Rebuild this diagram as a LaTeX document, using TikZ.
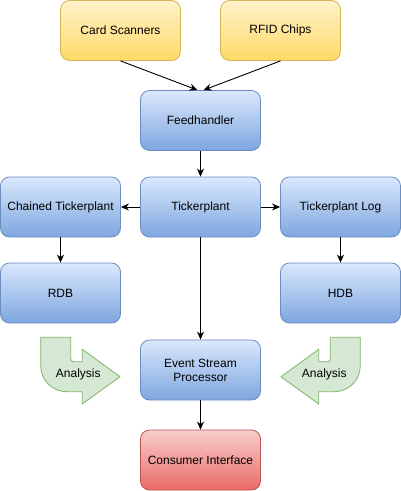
\documentclass[tikz,border=0pt]{standalone}
\usepackage{fontspec}
\setmainfont{Liberation Sans}
\usetikzlibrary{arrows.meta}
\definecolor{yTop}{HTML}{FFF2CC}
\definecolor{yBot}{HTML}{FFD966}
\definecolor{yStroke}{HTML}{D6B656}
\definecolor{bTop}{HTML}{DAE8FC}
\definecolor{bBot}{HTML}{7EA6E0}
\definecolor{bStroke}{HTML}{6C8EBF}
\definecolor{rTop}{HTML}{F8CECC}
\definecolor{rBot}{HTML}{EA6B66}
\definecolor{rStroke}{HTML}{B85450}
\definecolor{gFill}{HTML}{D5E8D4}
\definecolor{gStroke}{HTML}{82B366}
\tikzset{
  box/.style={rounded corners=9pt, minimum width=120pt, minimum height=60pt,
    line width=0.8pt, font=\fontsize{12}{14}\selectfont, align=center, inner sep=0pt},
  yellowbox/.style={box, draw=yStroke, top color=yTop, bottom color=yBot},
  bluebox/.style={box, draw=bStroke, top color=bTop, bottom color=bBot},
  redbox/.style={box, draw=rStroke, top color=rTop, bottom color=rBot},
  arr/.style={line width=0.9pt, -{Stealth[length=8pt,width=7pt,inset=2.5pt]}},
  bigarrow/.style={fill=gFill, draw=gStroke, line width=0.8pt, line join=round},
  lbl/.style={font=\fontsize{12}{14}\selectfont, inner sep=0pt}
}
\begin{document}
\begin{tikzpicture}[x=1pt,y=-1pt]
\useasboundingbox (0,0) rectangle (401,491);
\node[yellowbox] (cs) at (120.5,30.5) {Card Scanners};
\node[yellowbox] (rf) at (280.5,30.5) {RFID Chips};
\node[bluebox] (fh) at (200.5,120.5) {Feedhandler};
\node[bluebox] (ct) at (60.5,207) {Chained Tickerplant};
\node[bluebox] (tp) at (200.5,207) {Tickerplant};
\node[bluebox] (tl) at (340.5,207) {Tickerplant Log};
\node[bluebox] (rdb) at (60.5,293) {RDB};
\node[bluebox] (hdb) at (340.5,293) {HDB};
\node[bluebox] (esp) at (200.5,370) {Event Stream\\Processor};
\node[redbox] (ci) at (200.5,460) {Consumer Interface};

\draw[arr] (cs.south) -- ([xshift=-3pt]fh.north);
\draw[arr] (rf.south) -- ([xshift=3pt]fh.north);
\draw[arr] (fh) -- (tp);
\draw[arr] (tp) -- (ct);
\draw[arr] (tp) -- (tl);
\draw[arr] (ct) -- (rdb);
\draw[arr] (tl) -- (hdb);
\draw[arr] (tp) -- (esp);
\draw[arr] (esp) -- (ci);

% left Analysis arrow
\draw[bigarrow] (40.7,337.3) -- (70.7,337.3) -- (70.7,358.7)
  .. controls (70.7,360.4) and (72,361.7) .. (73.7,361.7) -- (82.3,361.7)
  -- (82.3,349.3) -- (120,376.7) -- (82.3,404) -- (82.3,391.7) -- (66.7,391.7)
  .. controls (52.3,391.7) and (40.7,380.1) .. (40.7,365.7) -- cycle;
\node[lbl] (al) at (78.3,374.5) {Analysis};
% right Analysis arrow
\draw[bigarrow] (360.3,337.3) -- (330.3,337.3) -- (330.3,358.7)
  .. controls (330.3,360.4) and (329,361.7) .. (327.3,361.7) -- (318.7,361.7)
  -- (318.7,349.3) -- (281,376.7) -- (318.7,404) -- (318.7,391.7) -- (334.3,391.7)
  .. controls (348.7,391.7) and (360.3,380.1) .. (360.3,365.7) -- cycle;
\node[lbl] (ar) at (324.3,374.5) {Analysis};
\end{tikzpicture}
\end{document}
